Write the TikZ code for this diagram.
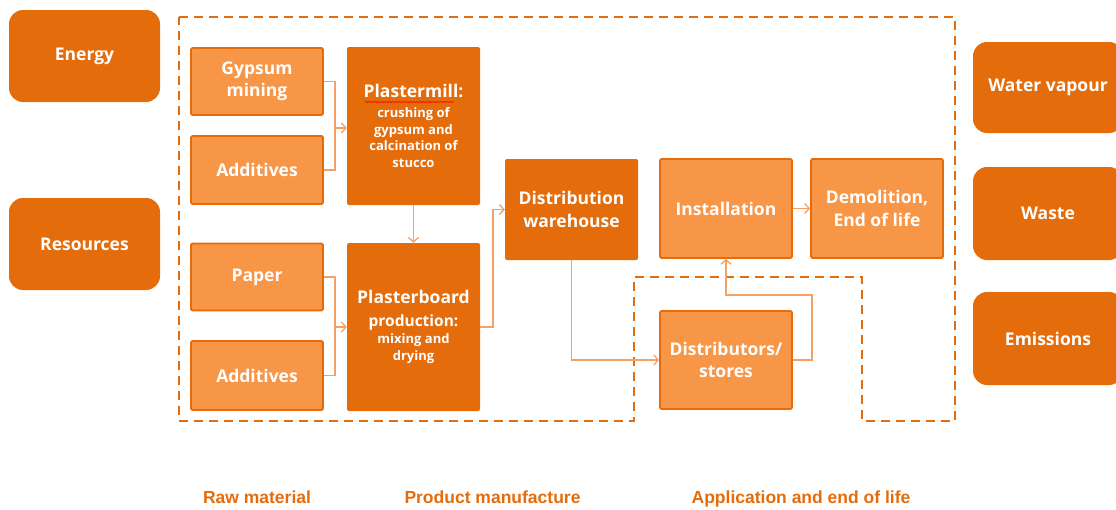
\documentclass[tikz,border=0pt]{standalone}
\usepackage{fontspec}
\setmainfont{Open Sans}
\newfontfamily\labfont{Liberation Sans}
\usetikzlibrary{arrows.meta,decorations.pathmorphing}
\definecolor{dk}{HTML}{E46C0A}
\definecolor{lt}{HTML}{F79646}
\definecolor{ln}{HTML}{F5A064}
\newcommand\fsmall{\fontsize{13}{16.5}\selectfont}
\newcommand\fmid{\fontsize{15.5}{17}\selectfont}
\begin{document}
\begin{tikzpicture}[x=1pt,y=-1pt,
  base/.style={text=white, align=center, inner sep=0pt,
    font=\bfseries\fontsize{17.5}{22.5}\selectfont},
  outbox/.style={base, fill=dk, draw=none, rounded corners=14pt,
    minimum width=151pt, minimum height=92pt},
  dkbox/.style={base, fill=dk, draw=none, rounded corners=2pt},
  ltbox/.style={base, fill=lt, draw=dk, line width=1.8pt, rounded corners=1.5pt},
  conn/.style={draw=ln, line width=1.4pt},
  arr/.style={conn, -{Straight Barb[length=4.5pt,width=10pt,line width=1.3pt]}},
  dashline/.style={draw=dk, line width=2.4pt, dash pattern=on 9pt off 6pt},
  lab/.style={text=dk, inner sep=0pt, anchor=base, font=\labfont\bfseries\fontsize{17.5}{20}\selectfont}
]
\useasboundingbox (0,0) rectangle (1116,509);
\clip (0,0) rectangle (1116,509);

% outer dashed boundary
\draw[dashline] (179,17) -- (955,17) -- (955,421) -- (862,421) -- (862,277)
  -- (634,277) -- (634,421) -- (179,421) -- cycle;

% input / output boxes
\node[outbox] (energy) at (84.5,56) {Energy};
\node[outbox] (resources) at (84.5,244) {Resources};
\node[outbox, minimum width=150pt, minimum height=91pt] (water) at (1048,87.5) {Water vapour};
\node[outbox, minimum width=150pt, minimum height=93pt] (waste) at (1048,213.5) {Waste};
\node[outbox, minimum width=150pt, minimum height=93pt] (emis) at (1048,338.5) {Emissions};

% raw material
\node[ltbox, minimum width=132pt, minimum height=67pt] (gyp) at (257,81.5) {Gypsum\\mining};
\node[ltbox, minimum width=132pt, minimum height=68pt] (add1) at (257,170) {Additives};
\node[ltbox, minimum width=132pt, minimum height=67pt] (paper) at (257,277) {Paper};
\node[ltbox, minimum width=132pt, minimum height=69pt] (add2) at (257,375.5) {Additives};

% manufacture
\node[dkbox, minimum width=133pt, minimum height=158pt] (pm) at (413.5,126)
  {Plastermill:\\[-2.5pt]\fsmall crushing of\\[-6pt]\fsmall gypsum and\\[-6pt]\fsmall calcination of\\[-6pt]\fsmall stucco};
\node[dkbox, minimum width=133pt, minimum height=168pt] (pb) at (413.5,327)
  {Plasterboard\\[0.5pt]\fmid production:\\[-5.5pt]\fsmall mixing and\\[-5.5pt]\fsmall drying};
\node[dkbox, minimum width=133pt, minimum height=101pt] (wh) at (571.5,209.5) {Distribution\\warehouse};

% application
\node[ltbox, minimum width=132pt, minimum height=99pt] (inst) at (726,208.5) {Installation};
\node[ltbox, minimum width=132pt, minimum height=99pt] (demo) at (877,208.5) {Demolition,\\End of life};
\node[ltbox, minimum width=132pt, minimum height=98pt] (dist) at (726,360) {Distributors/\\stores};

% spell-check squiggle
\draw[red, line width=0.6pt, decorate, decoration={snake, amplitude=0.7pt, segment length=3pt}]
  (365,102) -- (454,102);

% connectors
\coordinate (j1) at (335,128);
\coordinate (j2) at (335,327);
\draw[conn] (gyp.east) -| (j1) |- (add1.east);
\draw[arr] (j1) -- (j1 -| pm.west);
\draw[arr] (pm.south) -- (pb.north);
\draw[conn] (paper.east) -| (j2) |- (add2.east);
\draw[arr] (j2) -- (j2 -| pb.west);
\draw[arr] (pb.east) -- (493,327) |- (wh.west);
\draw[arr] (wh.south) |- (dist.west);
\draw[arr] (dist.east) -- (812,360) -- (812,295) -| (inst.south);
\draw[arr] (inst.east) -- (demo.west);

% phase labels
\node[lab] (l1) at (257,503.5) {Raw material};
\node[lab] (l2) at (492.5,503.5) {Product manufacture};
\node[lab] (l3) at (801,503.5) {Application and end of life};
\end{tikzpicture}
\end{document}
